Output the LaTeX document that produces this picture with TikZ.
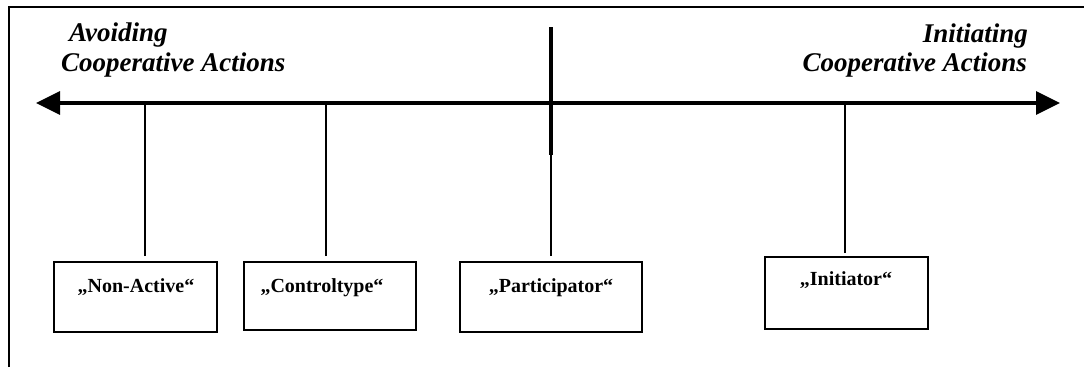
\documentclass[tikz,border=0pt]{standalone}
\usepackage{fontspec}
\setmainfont{Liberation Serif}
\usetikzlibrary{arrows.meta}
\begin{document}
\begin{tikzpicture}[x=1pt,y=-1pt,
  frame/.style={line width=1.7pt},
  axisline/.style={line width=3.2pt,{Triangle[length=24pt,width=23pt]}-{Triangle[length=24pt,width=23pt]}},
  centerthick/.style={line width=3.2pt},
  tick/.style={line width=1.8pt},
  ctick/.style={line width=2pt},
  typebox/.style={draw,line width=2pt,inner sep=0pt},
  boxlabel/.style={anchor=base,inner sep=0pt,font=\fontsize{20}{22}\selectfont\bfseries},
  headline/.style={inner sep=0pt,font=\fontsize{27}{30}\selectfont\bfseries\itshape}
]
\useasboundingbox (0,0) rectangle (1084,367);
% frame (left and top edges only)
\coordinate (fbl) at (9,367);
\coordinate (ftl) at (9,7);
\coordinate (ftr) at (1084,7);
\draw[frame] (fbl) -- (ftl) -- (ftr);

% headings
\node[headline,anchor=base west] (avoid1) at (69,41) {Avoiding};
\node[headline,anchor=base west] (avoid2) at (61,71) {Cooperative Actions};
\node[headline,anchor=base east] (init1) at (1028,42) {Initiating};
\node[headline,anchor=base east] (init2) at (1027,71) {Cooperative Actions};

% boxes
\node[typebox,minimum width=163pt,minimum height=70pt] (na) at (135.5,297) {};
\node[boxlabel] (nat) at (136,292) {„Non-Active“};
\node[typebox,minimum width=172pt,minimum height=68pt] (ct) at (330,296) {};
\node[boxlabel] (ctt) at (322,292) {„Controltype“};
\node[typebox,minimum width=182pt,minimum height=70pt] (pa) at (551,297) {};
\node[boxlabel] (pat) at (551,292) {„Participator“};
\node[typebox,minimum width=163pt,minimum height=72pt] (in) at (846.5,293) {};
\node[boxlabel] (int) at (846,285) {„Initiator“};

% axis
\coordinate (L) at (36,103);
\coordinate (R) at (1060,103);
\coordinate (axc) at (551,103);

% ticks
\draw[tick,shorten <=5pt] (na.north -| 145,0) -- (145,103);
\draw[tick,shorten <=5pt] (ct.north -| 326,0) -- (326,103);
\draw[ctick,shorten <=5pt] (pa.north) -- (axc);
\draw[tick,shorten <=3pt] (in.north -| 845,0) -- (845,103);

\draw[axisline] (L) -- (R);

% center divider
\coordinate (ctop) at (551,27);
\coordinate (cmid) at (551,155);
\draw[centerthick] (ctop) -- (cmid);
\end{tikzpicture}
\end{document}
